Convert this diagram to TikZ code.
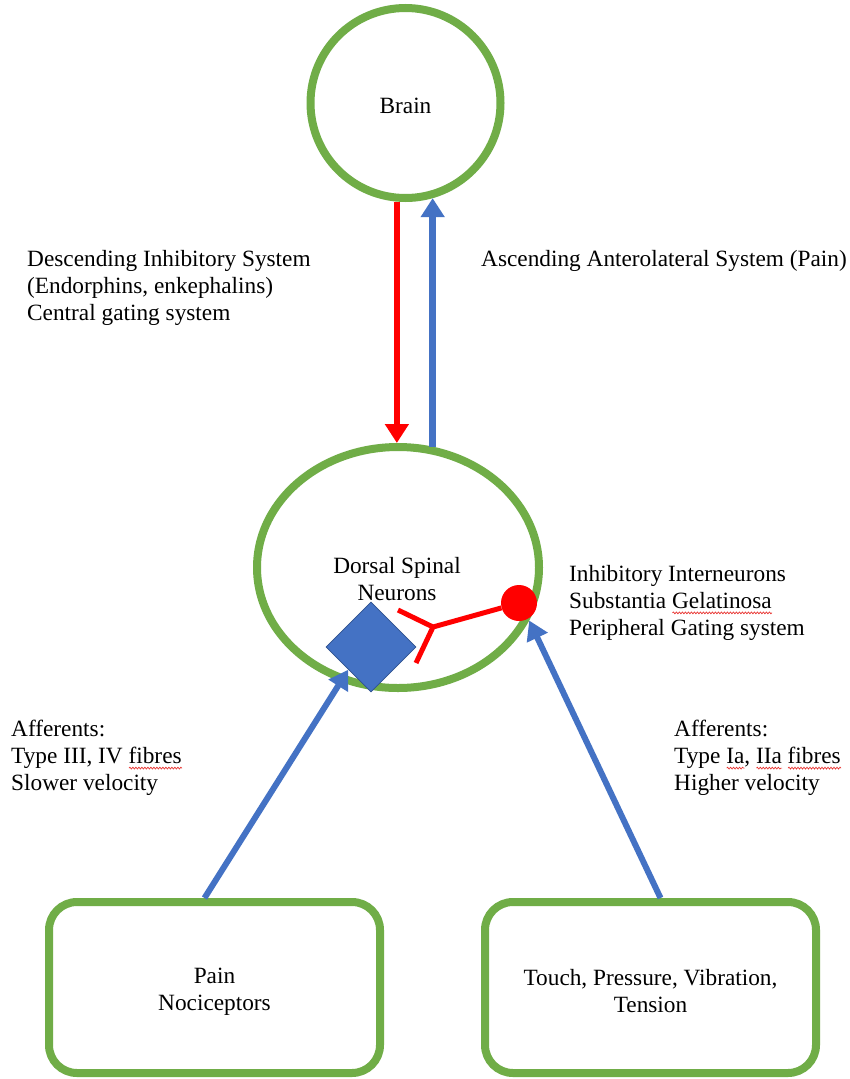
\documentclass[tikz,border=0pt]{standalone}
\usepackage{fontspec}
\setmainfont{Liberation Serif}
\usetikzlibrary{shapes.geometric,arrows.meta,calc,decorations.pathmorphing}
\definecolor{leaf}{HTML}{70AD47}
\definecolor{nerveblue}{HTML}{4472C4}
\definecolor{nerveblueedge}{HTML}{2F528F}
\definecolor{inhibred}{HTML}{FF0000}
\definecolor{spellred}{HTML}{E8322F}
% wavy red underline beneath a word
\newsavebox\spbox
\newcommand\spellmark[1]{\sbox\spbox{#1}\rlap{\usebox\spbox}\smash{\makebox[\wd\spbox][l]{\tikz[baseline=0pt]\draw[spellred,line width=0.7pt,decorate,decoration={snake,amplitude=0.9pt,segment length=3pt}] (0pt,-4.5pt) -- (\wd\spbox,-4.5pt);}}}
\begin{document}
\begin{tikzpicture}[x=1pt,y=-1pt,
  font=\fontsize{23.3}{27}\selectfont,
  ring/.style={draw=leaf,line width=8pt},
  sensorbox/.style={ring,rounded corners=28pt,minimum width=331pt,minimum height=171pt},
  label/.style={anchor=north west,align=left,inner sep=0pt},
  descend/.style={draw=inhibred,line width=6.5pt,-{Triangle[width=23pt,length=19pt]}},
  ascend/.style={draw=nerveblue,line width=6.5pt,-{Triangle[width=23pt,length=19pt]}},
  afferent/.style={draw=nerveblue,line width=6pt,-{Triangle[width=22pt,length=19pt]}},
  inhib/.style={draw=inhibred,line width=5pt}]
\useasboundingbox (0,0) rectangle (849,1079);
\fill[white] (0,0) rectangle (849,1079);

% centres
\node[ring,circle,minimum size=190pt,inner sep=0pt] (brain) at (405.5,103) {};
\node[inner sep=0pt] (brainlbl) at ($(brain.center)+(0,3)$) {Brain};
\node[ring,ellipse,minimum width=282pt,minimum height=241pt,inner sep=0pt] (dorsal) at (398,567.5) {};
\node[align=center,anchor=north,inner sep=0pt] (dsn) at (397,557.5) {Dorsal Spinal\\Neurons};

% receptor boxes
\node[sensorbox] (pain) at (214.5,987.5) {};
\node[align=center,inner sep=0pt] (painlbl) at ($(pain.center)+(0,4)$) {Pain\\Nociceptors};
\node[sensorbox] (touch) at (650.5,987.5) {};
\node[align=center,inner sep=0pt] (touchlbl) at ($(touch.center)+(0,4)$) {Touch, Pressure, Vibration,\\Tension};

% dorsal horn neuron and inhibitory interneuron
\node[diamond,fill=nerveblue,draw=nerveblueedge,line width=0.8pt,minimum size=90pt,inner sep=0pt] (soma) at (371,647) {};
\node[circle,fill=inhibred,minimum size=36pt,inner sep=0pt] (gate) at (519,603) {};
\coordinate (fork) at (433,627);
\coordinate (armA) at (398,610);
\coordinate (armB) at (416,663);
\draw[inhib] (gate) -- (fork) (fork) -- (armA) (fork) -- (armB);

% descending and ascending pathways
\draw[descend] (brain.-95) -- (brain.-95 |- dorsal.north);
\draw[ascend] (dorsal.74) -- (dorsal.74 |- brain.-74);

% afferent inputs
\draw[afferent] ($(pain.north)+(-10,0)$) -- (soma.south west);
\draw[afferent] ($(touch.north)+(10,0)$) -- (dorsal.-22);

% annotations
\node[label] (desclbl) at (27,250) {Descending Inhibitory System\\(Endorphins, enkephalins)\\Central gating system};
\node[anchor=base west,inner sep=0pt] (asclbl) at (481,266) {Ascending Anterolateral System (Pain)};
\node[label] (gatelbl) at (569,565) {Inhibitory Interneurons\\Substantia \spellmark{Gelatinosa}\\Peripheral Gating system};
\node[label] (slowlbl) at (11,720) {Afferents:\\Type III, IV \spellmark{fibres}\\Slower velocity};
\node[label] (fastlbl) at (674,720) {Afferents:\\Type \spellmark{Ia}, \spellmark{IIa} \spellmark{fibres}\\Higher velocity};
\end{tikzpicture}
\end{document}
